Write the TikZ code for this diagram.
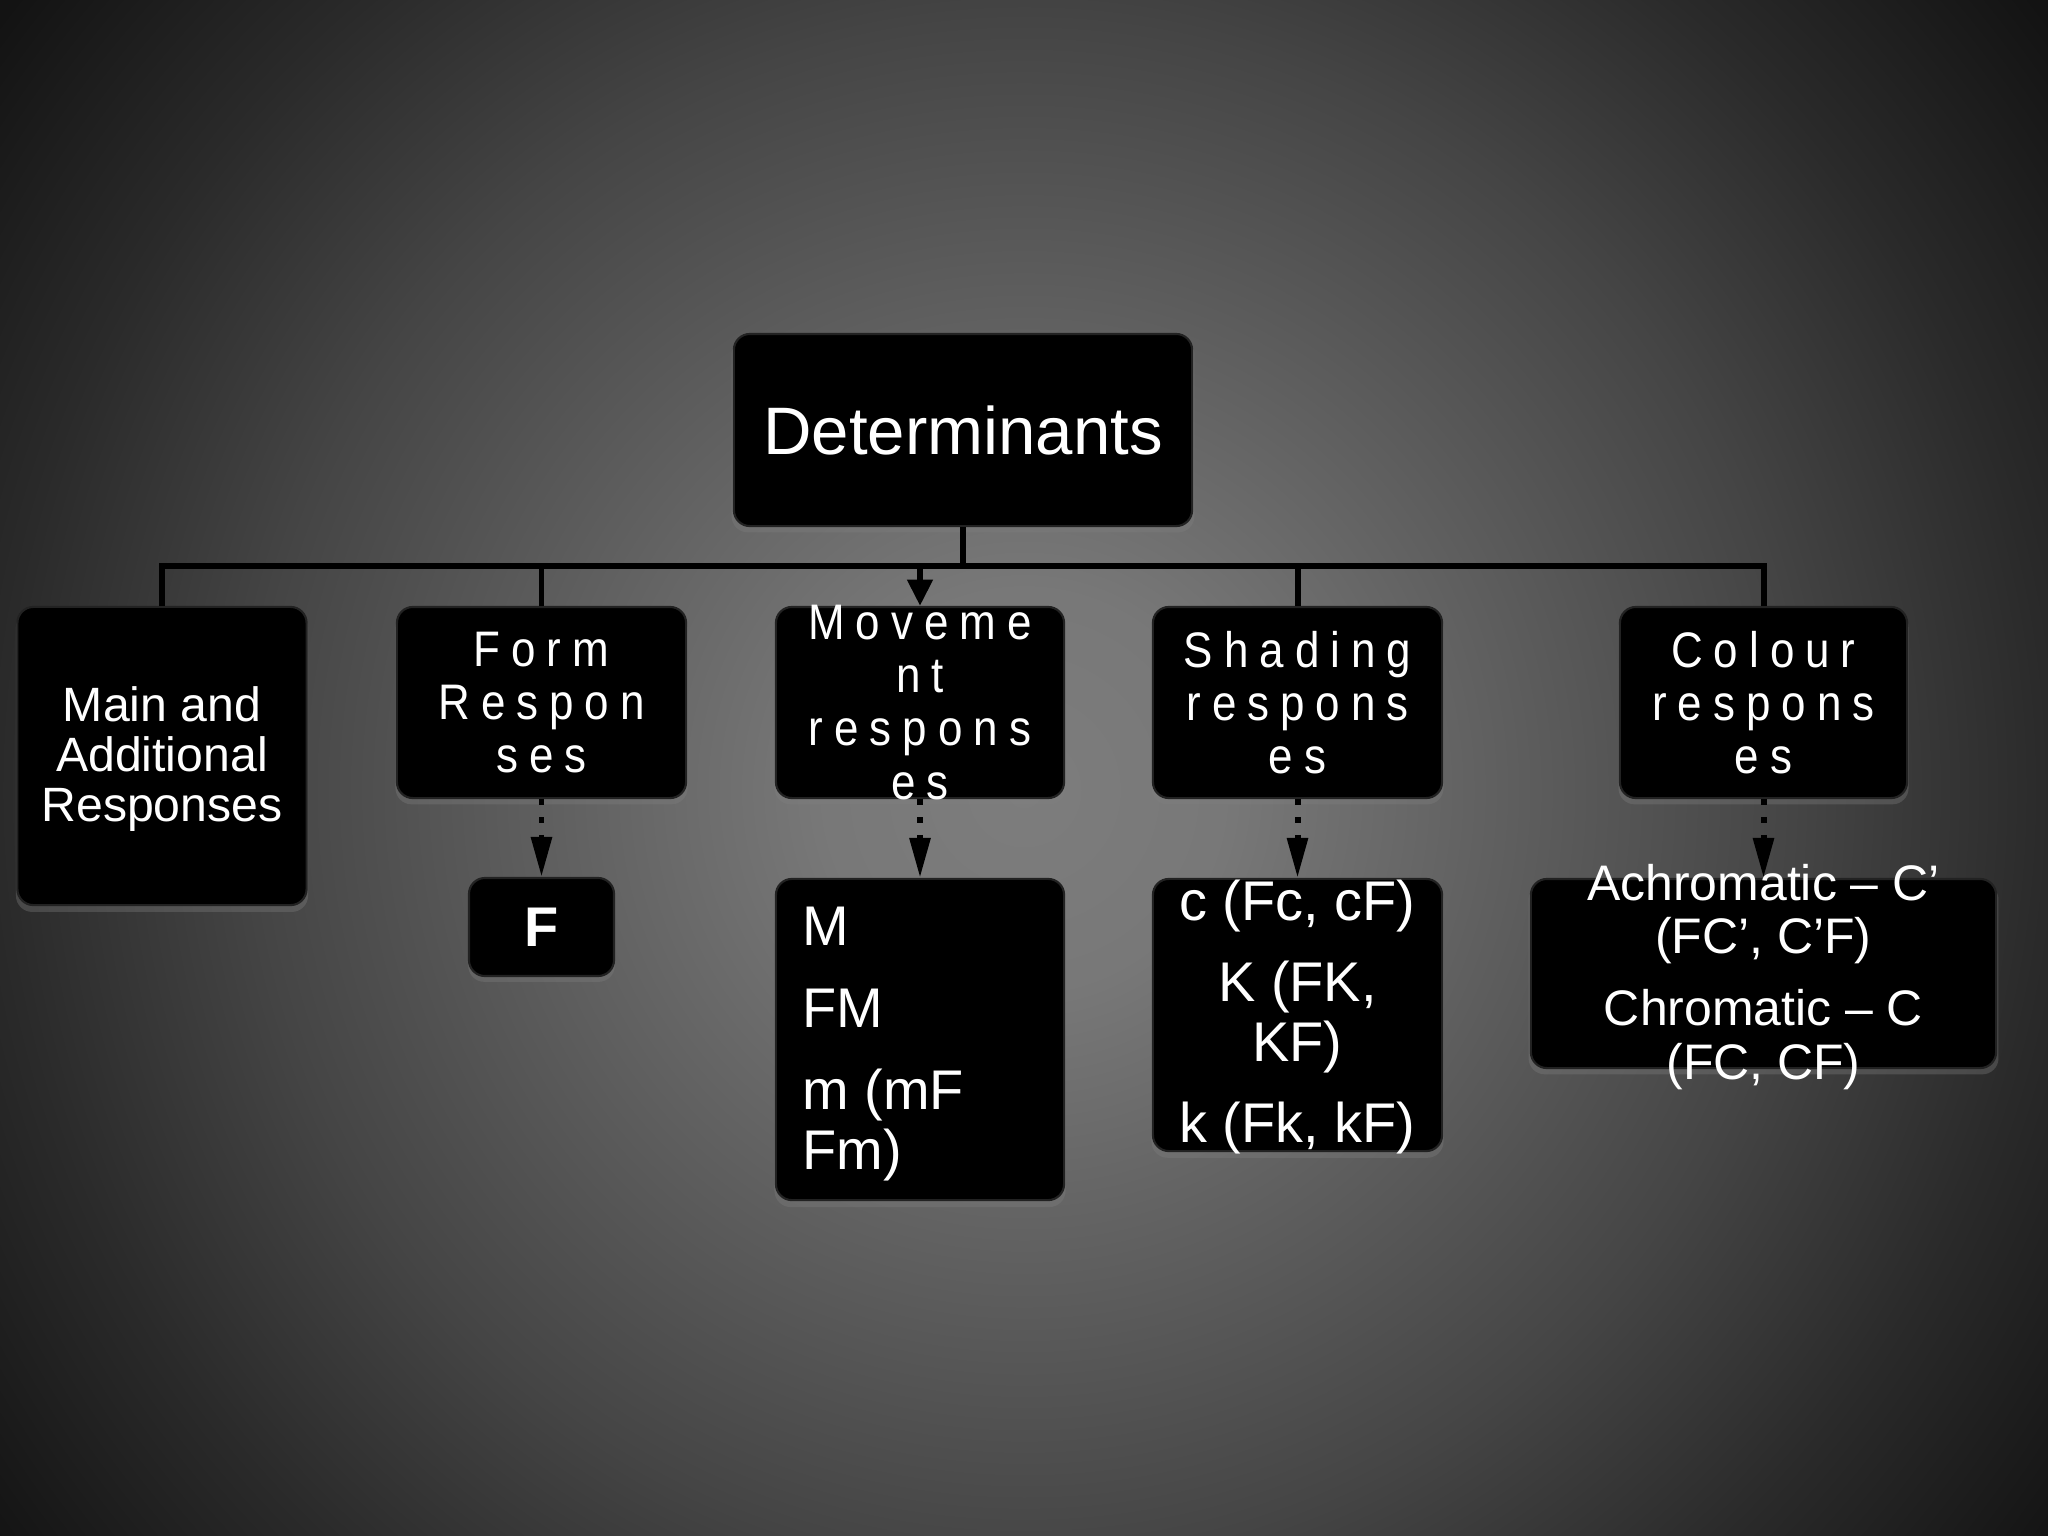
\documentclass[tikz,border=0pt]{standalone}
\usepackage{fontspec}
\setmainfont{Liberation Sans}
\newfontfamily\spacedfont[LetterSpace=22,FakeStretch=0.88]{Liberation Sans}
\usetikzlibrary{arrows.meta,shadows}
\definecolor{bgA}{gray}{0.49}
\definecolor{bgB}{gray}{0.47}
\definecolor{bgC}{gray}{0.27}
\definecolor{bgD}{gray}{0.165}
\definecolor{bgE}{gray}{0.075}
\definecolor{boxedge}{RGB}{34,34,34}
\pgfdeclareradialshading{bgrad}{\pgfpoint{0bp}{0bp}}{color(0bp)=(bgA); color(3.85bp)=(bgB); color(14.8bp)=(bgC); color(19.7bp)=(bgD); color(24.6bp)=(bgE); color(50bp)=(bgE)}
\tikzset{
  dbox/.style={draw=boxedge, line width=0.6pt, fill=black, rounded corners=0.16cm, inner sep=0pt,
    drop shadow={shadow xshift=0pt, shadow yshift=-1.5pt, opacity=0.35, shadow scale=1.01}},
  lbl/.style={text=white, inner sep=0pt, align=center},
  conn/.style={line width=1.7pt, draw=black},
  dconn/.style={line width=1.7pt, draw=black, dash pattern=on 1.7pt off 3.4pt,
    -{Triangle[length=11.4pt,width=5.7pt]}},
}
\begin{document}
\begin{tikzpicture}[x=0.01cm,y=-0.01cm]
\useasboundingbox (0,0) rectangle (2048,1536);
\begin{scope}
  \clip (0,0) rectangle (2048,1536);
  \shade[shading=bgrad] (1024,790) circle[radius=13cm];
\end{scope}

% boxes
\node[dbox, minimum width=4.58cm, minimum height=1.92cm] (det) at (963,430) {};
\node[dbox, minimum width=2.89cm, minimum height=2.98cm] (main) at (162,756) {};
\node[dbox, minimum width=2.89cm, minimum height=1.91cm] (form) at (541.5,702.5) {};
\node[dbox, minimum width=2.88cm, minimum height=1.91cm] (move) at (920,702.5) {};
\node[dbox, minimum width=2.89cm, minimum height=1.91cm] (shad) at (1297.5,702.5) {};
\node[dbox, minimum width=2.87cm, minimum height=1.91cm] (col) at (1763.5,702.5) {};
\node[dbox, minimum width=1.45cm, minimum height=0.98cm] (fsub) at (541.5,927) {};
\node[dbox, minimum width=2.88cm, minimum height=3.21cm] (msub) at (920,1039.5) {};
\node[dbox, minimum width=2.89cm, minimum height=2.72cm] (ssub) at (1297.5,1015) {};
\node[dbox, minimum width=4.65cm, minimum height=1.89cm] (csub) at (1763.5,973.5) {};

% connectors
\coordinate (bar) at (0,566);
\draw[conn] (det.south) -- (det.south |- bar);
\draw[conn, line cap=rect] (main.north |- bar) -- (col.north |- bar);
\draw[conn] (main.north |- bar) -- (main.north);
\draw[conn] (form.north |- bar) -- (form.north);
\draw[conn] (shad.north |- bar) -- (shad.north);
\draw[conn] (col.north |- bar) -- (col.north);
\draw[conn, -{Triangle[length=7.5pt,width=7pt]}] (move.north |- bar) -- (move.north);
\draw[dconn] (form.south) -- (fsub.north);
\draw[dconn] (move.south) -- (msub.north);
\draw[dconn] (shad.south) -- (ssub.north);
\draw[dconn] (col.south) -- (csub.north);

% texts
\node[lbl, font=\fontsize{19.1}{22}\selectfont] (dettxt) at (det.center) {Determinants};
\node[lbl, font=\fontsize{13.7}{14.2}\selectfont] (maintxt) at (162,759) {Main and\\Additional\\Responses};
\node[lbl, font={\spacedfont\fontsize{14.2}{15.1}\selectfont}] (formtxt) at (form.center) {Form\\Respon\\ses};
\node[lbl, font={\spacedfont\fontsize{14.2}{15.1}\selectfont}] (movetxt) at (move.center) {Moveme\\nt\\respons\\es};
\node[lbl, font={\spacedfont\fontsize{14.2}{15.1}\selectfont}] (shadtxt) at (shad.center) {Shading\\respons\\es};
\node[lbl, font={\spacedfont\fontsize{14.2}{15.1}\selectfont}] (coltxt) at (col.center) {Colour\\respons\\es};
\node[lbl, font=\fontsize{15.9}{17}\bfseries\selectfont] (ftxt) at (fsub.center) {F};
\node[lbl, align=left, anchor=west, font=\fontsize{15.9}{17.1}\selectfont] (mtxt) at (802,1044) {M\\[6.3pt]FM\\[6.3pt]m (mF\\Fm)};
\node[lbl, font=\fontsize{15.9}{16.8}\selectfont] (stxt) at (1297.5,1017) {c (Fc, cF)\\[6.3pt]K (FK,\\KF)\\[6.3pt]k (Fk, kF)};
\node[lbl, font=\fontsize{14.2}{15.1}\selectfont] (ctxt) at (1763.5,977) {Achromatic – C’\\(FC’, C’F)\\[5.4pt]Chromatic – C\\(FC, CF)};
\end{tikzpicture}
\end{document}
